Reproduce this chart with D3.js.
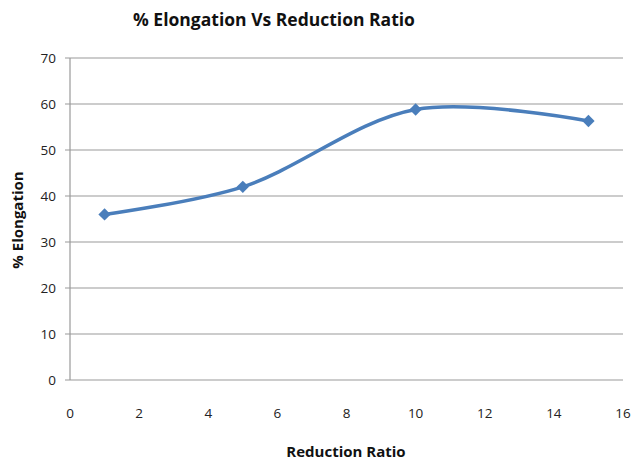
<!DOCTYPE html>
<html><head><meta charset="utf-8">
<script src="https://cdn.jsdelivr.net/npm/d3@7"></script>
<style>body{margin:0;background:#fff}</style>
</head><body>
<svg id="c" width="635" height="466"></svg>
<script>
const reductionRatio = [1, 5, 10, 15];
const elongation = [36, 42, 58.8, 56.3];
const xTicks = [0, 2, 4, 6, 8, 10, 12, 14, 16];
const yTicks = [0, 10, 20, 30, 40, 50, 60, 70];

const svg = d3.select("#c");
const font = "'Liberation Sans Narrow','Open Sans',sans-serif";
const m = {l: 70, r: 12, t: 58, b: 86};
const W = 635, H = 466;
const x = d3.scaleLinear().domain([0,16]).range([m.l, W - m.r]);
const y = d3.scaleLinear().domain([0,70]).range([H - m.b, m.t]);

// gridlines
svg.append("g").selectAll("line").data(yTicks).join("line")
  .attr("x1", m.l - 5).attr("x2", W - m.r)
  .attr("y1", d => y(d)).attr("y2", d => y(d))
  .attr("stroke", "#999").attr("stroke-width", 1.2);
svg.append("line").attr("x1", m.l).attr("x2", m.l).attr("y1", m.t).attr("y2", H - m.b)
  .attr("stroke", "#999").attr("stroke-width", 1.2);

// y axis labels
svg.append("g").selectAll("text").data(yTicks).join("text")
  .attr("x", m.l - 14).attr("y", d => y(d)).attr("dy", "0.35em")
  .attr("text-anchor", "end").attr("font-family", font).attr("font-size", 13.5).attr("fill", "#222")
  .text(d => d);
// x axis labels
svg.append("g").selectAll("text").data(xTicks).join("text")
  .attr("x", d => x(d)).attr("y", H - m.b + 38)
  .attr("text-anchor", "middle").attr("font-family", font).attr("font-size", 13.5).attr("fill", "#222")
  .text(d => d);

const pts = reductionRatio.map((r,i) => [r, elongation[i]]);
const line = d3.line().x(d => x(d[0])).y(d => y(d[1])).curve(d3.curveCatmullRom.alpha(0.5));
svg.append("path").attr("d", line(pts)).attr("fill", "none")
  .attr("stroke", "#4a7ebb").attr("stroke-width", 3.5);
svg.append("g").selectAll("path").data(pts).join("path")
  .attr("d", d3.symbol(d3.symbolSquare, 76))
  .attr("transform", d => `translate(${x(d[0])},${y(d[1])}) rotate(45)`)
  .attr("fill", "#4a7ebb");

svg.append("text").attr("x", 274).attr("y", 26).attr("text-anchor", "middle")
  .attr("font-family", font).attr("font-weight", "bold").attr("font-size", 17.5).attr("fill", "#111")
  .text("% Elongation  Vs Reduction Ratio");
svg.append("text").attr("x", 346).attr("y", 457).attr("text-anchor", "middle")
  .attr("font-family", font).attr("font-weight", "bold").attr("font-size", 15).attr("fill", "#111")
  .text("Reduction Ratio");
svg.append("text").attr("transform", "translate(23,220) rotate(-90)").attr("text-anchor", "middle")
  .attr("font-family", font).attr("font-weight", "bold").attr("font-size", 15).attr("fill", "#111")
  .text("% Elongation");
</script>
</body></html>
